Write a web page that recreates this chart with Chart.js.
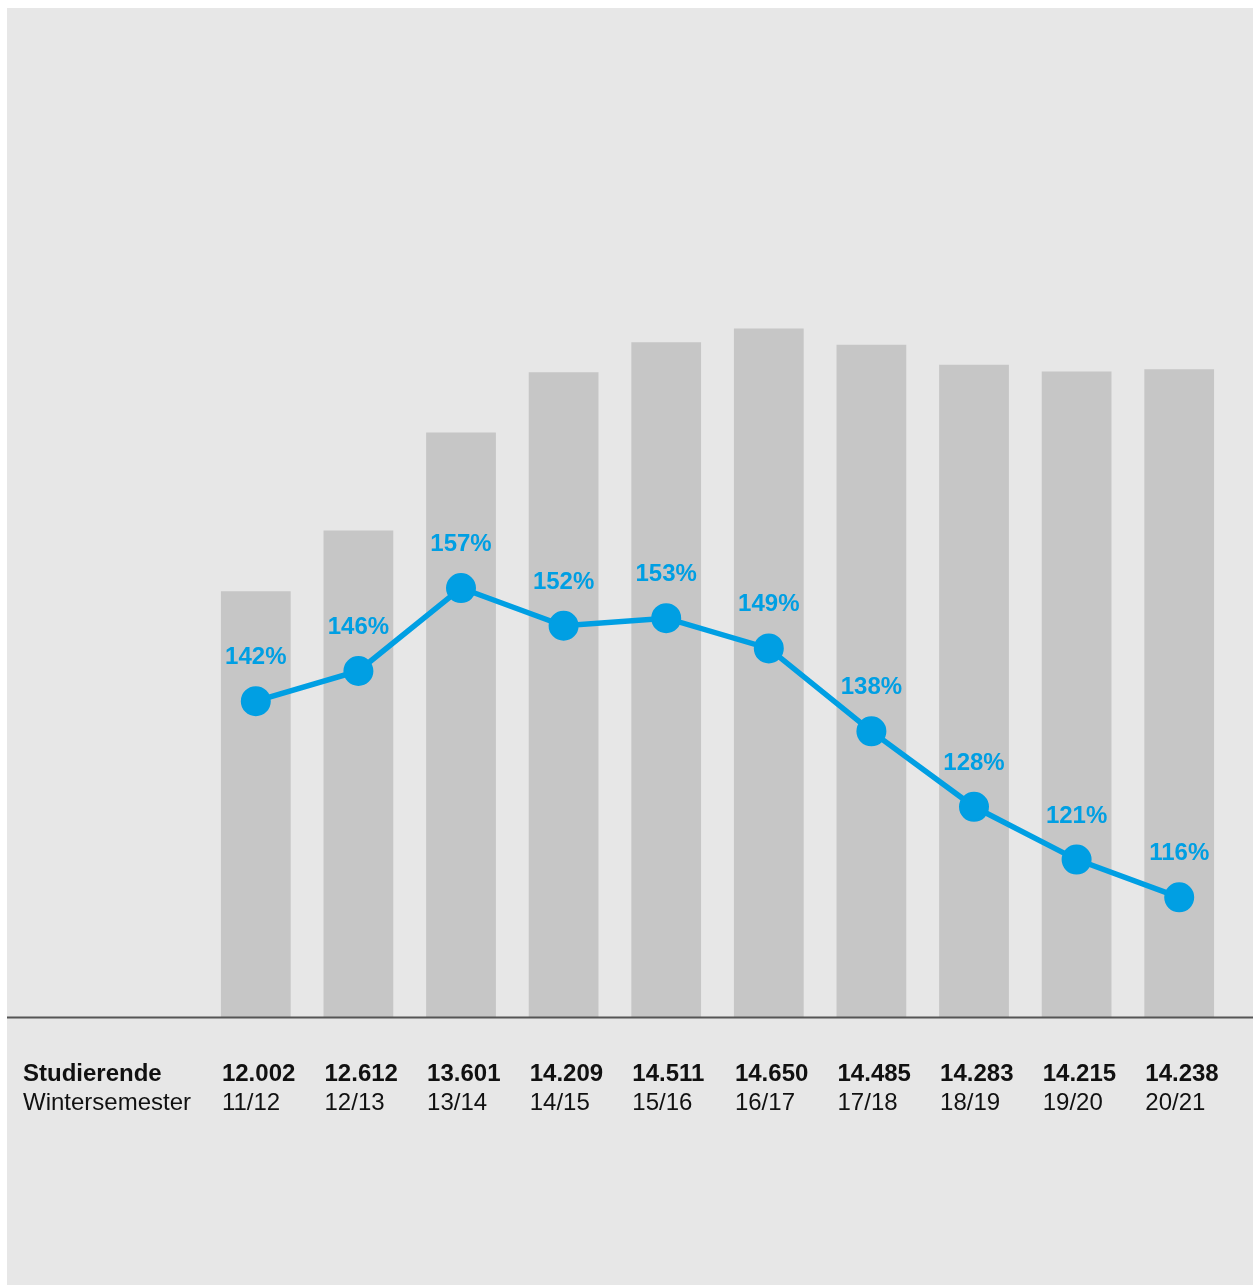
<!DOCTYPE html>
<html lang="de">
<head>
<meta charset="utf-8">
<title>Studierende Wintersemester</title>
<script src="https://cdn.jsdelivr.net/npm/chart.js@4.4.1/dist/chart.umd.min.js"></script>
<style>
  html, body { margin: 0; padding: 0; background: #fff; }
  canvas { display: block; }
</style>
</head>
<body>
<canvas id="studChart" width="1253" height="1285"></canvas>
<script>
// Werte aus der Vorlage
const semesters = ['11/12', '12/13', '13/14', '14/15', '15/16', '16/17', '17/18', '18/19', '19/20', '20/21'];
const studierende = [12002, 12612, 13601, 14209, 14511, 14650, 14485, 14283, 14215, 14238];
const studierendeLabels = ['12.002', '12.612', '13.601', '14.209', '14.511', '14.650', '14.485', '14.283', '14.215', '14.238'];
const auslastung = [142, 146, 157, 152, 153, 149, 138, 128, 121, 116];

const FONT = '"Liberation Sans", Arial, Helvetica, sans-serif';
const BLUE = '#009fe3';

// grey panel behind everything
const panelPlugin = {
  id: 'panel',
  beforeDraw(chart) {
    const ctx = chart.ctx;
    ctx.save();
    ctx.fillStyle = '#e7e7e7';
    ctx.fillRect(7, 8, chart.width - 7, chart.height - 8);
    ctx.restore();
  }
};

// baseline, percent labels and the table below the bars
const labelPlugin = {
  id: 'labels',
  afterDatasetsDraw(chart) {
    const ctx = chart.ctx;
    const area = chart.chartArea;
    const bars = chart.getDatasetMeta(1).data;
    const points = chart.getDatasetMeta(0).data;

    ctx.save();
    // baseline across the full panel
    ctx.strokeStyle = '#555';
    ctx.lineWidth = 2;
    ctx.beginPath();
    ctx.moveTo(7, area.bottom - 0.5);
    ctx.lineTo(chart.width, area.bottom - 0.5);
    ctx.stroke();

    // percent labels above the points
    ctx.fillStyle = BLUE;
    ctx.font = 'bold 24px ' + FONT;
    ctx.textAlign = 'center';
    ctx.textBaseline = 'alphabetic';
    points.forEach((pt, i) => {
      ctx.fillText(auslastung[i] + '%', pt.x, pt.y - 37);
    });

    // row titles
    ctx.fillStyle = '#111';
    ctx.textAlign = 'left';
    ctx.font = 'bold 24px ' + FONT;
    ctx.fillText('Studierende', 23, 1081);
    ctx.font = '24px ' + FONT;
    ctx.fillText('Wintersemester', 23, 1110);

    // values + semesters, left aligned with each bar
    bars.forEach((bar, i) => {
      const left = bar.x - bar.width / 2 + 1;
      ctx.font = 'bold 24px ' + FONT;
      ctx.fillText(studierendeLabels[i], left, 1081);
      ctx.font = '24px ' + FONT;
      ctx.fillText(semesters[i], left, 1110);
    });
    ctx.restore();
  }
};

new Chart(document.getElementById('studChart').getContext('2d'), {
  type: 'bar',
  data: {
    labels: semesters,
    datasets: [{
      type: 'line',
      label: 'Auslastung',
      data: auslastung,
      yAxisID: 'yPct',
      borderColor: BLUE,
      backgroundColor: BLUE,
      borderWidth: 5.5,
      pointRadius: 14,
      pointBorderWidth: 2,
      pointBorderColor: BLUE,
      pointBackgroundColor: BLUE,
      tension: 0,
      order: 0
    }, {
      label: 'Studierende',
      data: studierende,
      yAxisID: 'y',
      backgroundColor: '#c6c6c6',
      borderWidth: 0,
      categoryPercentage: 1,
      barPercentage: 0.68,
      order: 1
    }]
  },
  options: {
    responsive: false,
    animation: false,
    layout: {
      padding: { left: 204.5, right: 22.5, top: 60, bottom: 267 }
    },
    plugins: {
      legend: { display: false },
      tooltip: { enabled: false }
    },
    scales: {
      x: { display: false, offset: true },
      y: { display: false, min: 7700, max: 17355 },
      yPct: { display: false, position: 'right', min: 100, max: 227 }
    }
  },
  plugins: [panelPlugin, labelPlugin]
});
</script>
</body>
</html>
